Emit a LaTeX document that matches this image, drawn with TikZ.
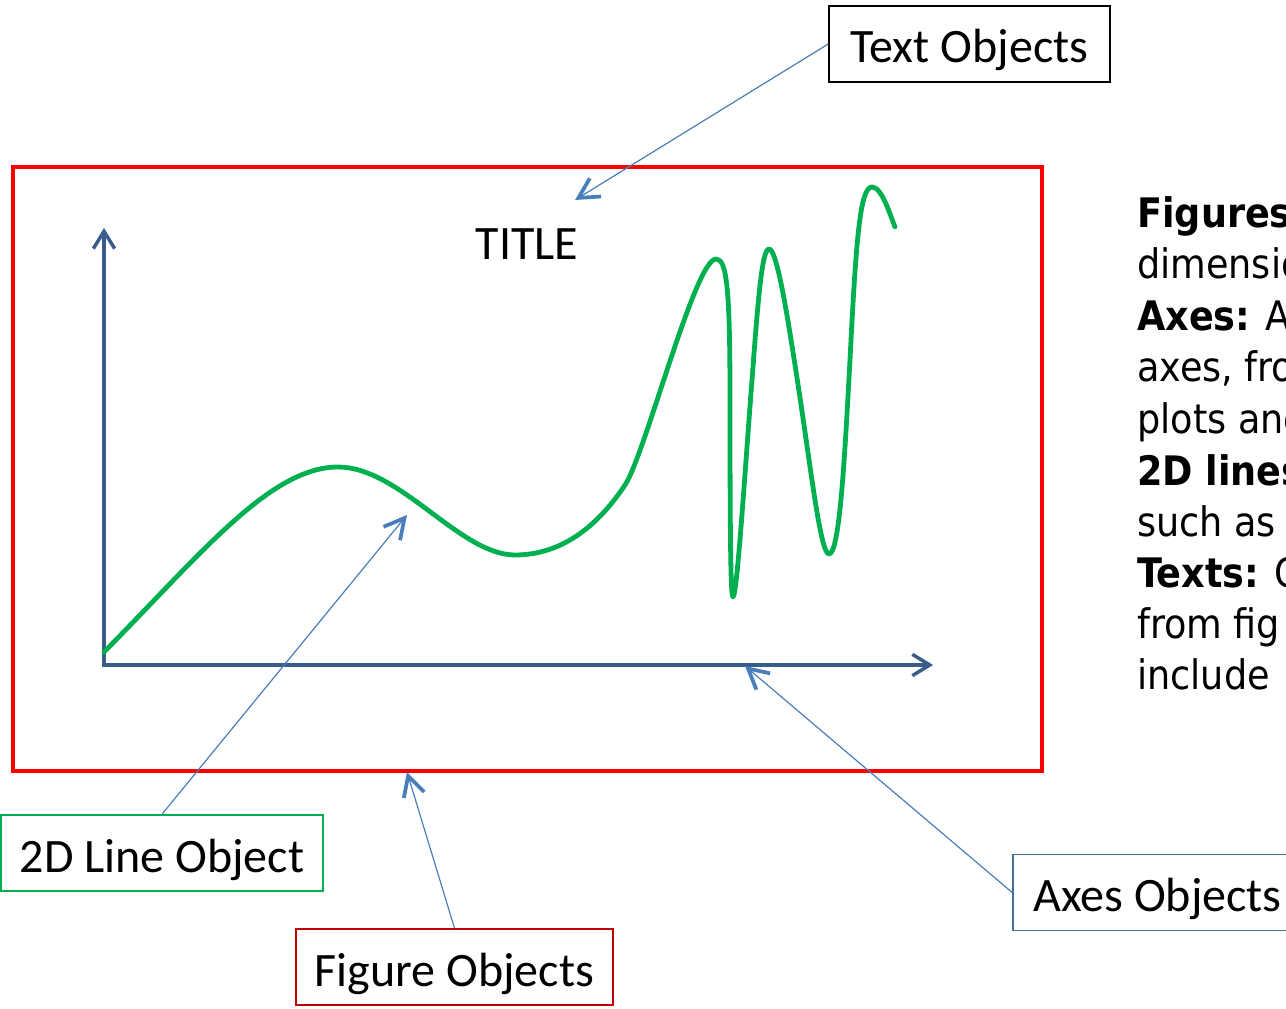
\documentclass[tikz,border=0pt]{standalone}
\usepackage{fontspec}
\setmainfont{Carlito}
\newfontfamily\tahoma{DejaVu Sans Condensed}
\usetikzlibrary{arrows.meta}
\definecolor{axblue}{HTML}{385D8A}
\definecolor{conblue}{HTML}{4A7EBB}
\definecolor{lgreen}{HTML}{00B050}
\definecolor{dred}{HTML}{C00000}
\definecolor{boxblue}{HTML}{41719C}
\begin{document}
\begin{tikzpicture}[x=0.75pt,y=-0.75pt,
  labelbox/.style={draw, line width=1.2pt, inner sep=0pt, minimum height=57pt, text height=28.5pt, text depth=0pt, font=\fontsize{36}{43}\selectfont},
  conn/.style={conblue, line width=0.9pt, -{Straight Barb[length=15pt,width=16pt,line width=2.8pt]}},
  axisline/.style={axblue, line width=3pt, line join=miter,
    {Straight Barb[length=13pt,width=16pt,line width=2.6pt]}-{Straight Barb[length=13pt,width=16pt,line width=2.6pt]}},
  sidetext/.style={anchor=base west, inner sep=0pt, font=\tahoma\fontsize{30.5}{38}\selectfont}]
\useasboundingbox (0,0) rectangle (1286,1009);
\clip (0,0) rectangle (1286,1009);

% figure frame
\draw[red, line width=3pt] (13,167) rectangle (1042,771);

% axes
\coordinate (orig) at (104,665);
\coordinate (ytip) at (104,228);
\coordinate (xtip) at (933,665);
\draw[axisline] (ytip) -- (orig) -- (xtip);

% title
\node[font=\fontsize{36}{43}\selectfont, inner sep=0pt] (title) at (527,244) {TITLE};

% green 2D line
\draw[lgreen, line width=3.6pt, line cap=round, line join=round]
  (104,652) .. controls (200,555) and (270,467) .. (338,467)
  .. controls (400,467) and (460,555) .. (515,555)
  .. controls (570,555) and (605,515) .. (625,485)
  .. controls (645,455) and (695,259) .. (716,259)
  .. controls (727,259) and (730,290) .. (730,400)
  .. controls (730,560) and (731,597) .. (733,597)
  .. controls (737,597) and (745,470) .. (752,380)
  .. controls (758,300) and (762,249) .. (769,249)
  .. controls (776,249) and (785,300) .. (795,365)
  .. controls (810,460) and (820,554) .. (829,554)
  .. controls (840,554) and (845,450) .. (850,360)
  .. controls (856,240) and (860,187) .. (872,187)
  .. controls (882,187) and (890,215) .. (895,227);

% labels
\node[labelbox, minimum width=210.75pt] (textobj) at (969.5,44) {Text Objects};
\node[labelbox, draw=lgreen, minimum width=241.5pt] (lineobj) at (162,853) {2D Line Object};
\node[labelbox, draw=dred, minimum width=237.75pt] (figobj) at (454.5,967) {Figure Objects};
\node[labelbox, draw=boxblue, minimum width=216.75pt] (axobj) at (1157.5,892.5) {Axes Objects};

% connector ends
\coordinate (titleend) at (575,200);
\coordinate (lineend) at (407,515);
\coordinate (figend) at (407,772);
\coordinate (axend) at (745,666);

\draw[conn] (textobj.west) -- (titleend);
\draw[conn] (lineobj.north) -- (lineend);
\draw[conn] (figobj.north) -- (figend);
\draw[conn] (axobj.west) -- (axend);

% side text (cut off at the right edge, as in the reference)
\node[sidetext] (s1) at (1137,228) {\textbf{Figures:}};
\node[sidetext] (s2) at (1137,279) {dimensio};
\node[sidetext] (s3) at (1137,331) {\textbf{Axes:} A};
\node[sidetext] (s4) at (1137,382) {axes, fro};
\node[sidetext] (s5) at (1137,433) {plots and};
\node[sidetext] (s6) at (1137,485) {\textbf{2D lines}};
\node[sidetext] (s7) at (1137,536) {such as};
\node[sidetext] (s8) at (1137,587) {\textbf{Texts:} C};
\node[sidetext] (s9) at (1137,638) {from fig};
\node[sidetext] (s10) at (1137,689) {include};
\end{tikzpicture}
\end{document}
